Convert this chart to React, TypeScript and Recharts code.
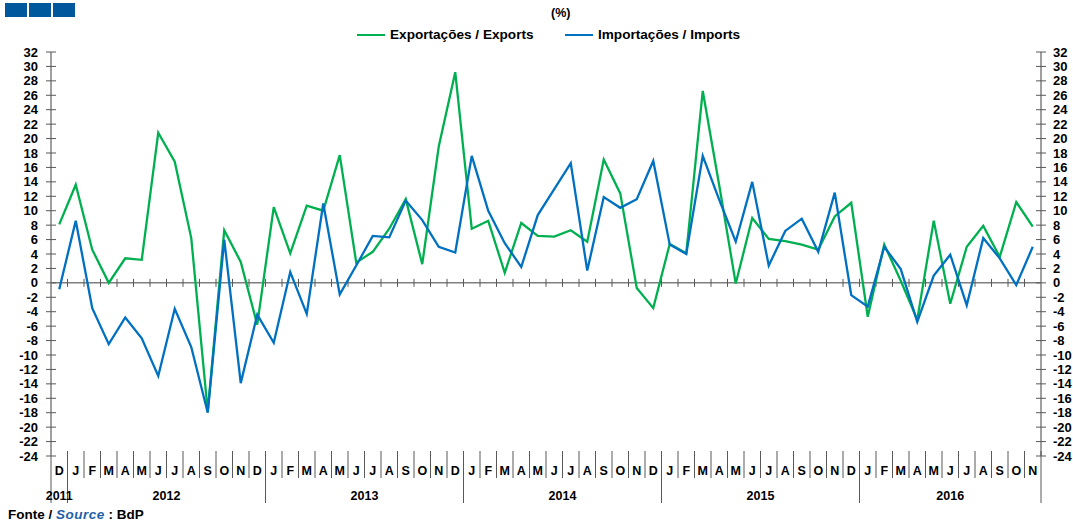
import React from "react";
import { LineChart, Line, XAxis, YAxis, ReferenceLine } from "recharts";

// month letters per year (Dec 2011 .. Nov 2016)
const years = ["2011", "2012", "2013", "2014", "2015", "2016"];
const fullYear = ["J", "F", "M", "A", "M", "J", "J", "A", "S", "O", "N", "D"];
const yearMonths = [
  ["D"],
  fullYear,
  fullYear,
  fullYear,
  fullYear,
  ["J", "F", "M", "A", "M", "J", "J", "A", "S", "O", "N"],
];

// year-on-year change, %
const exportsPct = [
  8.1,
  13.6, 4.6, 0.0, 3.4, 3.2, 20.8, 16.8, 6.2, -17.8, 7.3, 2.9, -5.8,
  10.5, 4.1, 10.7, 10.0, 17.7, 2.8, 4.3, 7.5, 11.6, 2.6, 18.9, 29.2,
  7.5, 8.6, 1.4, 8.3, 6.5, 6.4, 7.3, 5.7, 17.1, 12.4, -0.7, -3.5,
  5.4, 4.1, 26.6, 13.5, -0.1, 9.0, 6.1, 5.8, 5.3, 4.6, 9.2, 11.1,
  -4.7, 5.3, 0.3, -5.1, 8.6, -2.9, 5.0, 7.9, 3.6, 11.2, 7.8,
];
const importsPct = [
  -0.9,
  8.6, -3.5, -8.5, -4.8, -7.7, -12.9, -3.6, -8.9, -18.0, 6.0, -13.9, -4.4,
  -8.3, 1.5, -4.3, 11.0, -1.6, 2.4, 6.5, 6.3, 11.4, 8.7, 5.0, 4.2,
  17.6, 10.0, 5.5, 2.2, 9.4, 13.0, 16.6, 1.7, 11.9, 10.4, 11.6, 16.9,
  5.3, 4.0, 17.6, 11.5, 5.7, 14.0, 2.4, 7.2, 8.9, 4.3, 12.5, -1.7,
  -3.3, 5.0, 1.9, -5.4, 1.0, 3.9, -3.1, 6.2, 3.4, -0.3, 5.0,
];

const yTicks = [
  -24, -22, -20, -18, -16, -14, -12, -10, -8, -6, -4, -2, 0, 2, 4, 6, 8, 10,
  12, 14, 16, 18, 20, 22, 24, 26, 28, 30, 32,
];

const rows: any[] = [];
const groupInfo: Record<number, { year: string; count: number }> = {};
yearMonths.forEach((ms, yi) => {
  groupInfo[rows.length] = { year: years[yi], count: ms.length };
  ms.forEach((m, mi) => {
    rows.push({ key: `${years[yi]}-${mi}`, month: m });
  });
});
rows.forEach((r, i) => {
  r.exports = exportsPct[i];
  r.imports = importsPct[i];
});

const W = 1073;
const H = 524;
const LEFT_W = 51;
const RIGHT_W = 32;
const TOP = 52;
const X_H = 68;
const STEP = (W - LEFT_W - RIGHT_W) / rows.length;

const FONT = '"Liberation Sans", Arial, Helvetica, sans-serif';
const GREEN = "#00B050";
const BLUE = "#0070C0";
const AXIS = "#7f7f7f";
const TICK = "#595959";

const LeftTick = (props: any) => {
  const { x, y, payload } = props;
  return (
    <g>
      <line x1={x - 5} x2={x + 5} y1={y} y2={y} stroke={TICK} strokeWidth={1} />
      <text x={x - 13} y={y} dy={4.5} textAnchor="end" fontSize={13} fontWeight="bold" fontFamily={FONT} fill="#000">
        {payload.value}
      </text>
    </g>
  );
};

const RightTick = (props: any) => {
  const { x, y, payload } = props;
  return (
    <g>
      <line x1={x - 5} x2={x + 5} y1={y} y2={y} stroke={TICK} strokeWidth={1} />
      <text x={x + 12} y={y} dy={4.5} textAnchor="start" fontSize={13} fontWeight="bold" fontFamily={FONT} fill="#000">
        {payload.value}
      </text>
    </g>
  );
};

const MonthTick = (props: any) => {
  const { x, y, payload } = props;
  const i = rows.findIndex((r) => r.key === payload.value);
  if (i < 0) return null;
  const half = STEP / 2;
  const tall = rows[i].month === "D" || i === rows.length - 1;
  const g = groupInfo[i];
  return (
    <g>
      {i === 0 && <line x1={x - half} x2={x - half} y1={y} y2={y + 47} stroke={TICK} strokeWidth={1} />}
      <line x1={x + half} x2={x + half} y1={y - 5} y2={y + (tall ? 47 : 22)} stroke={TICK} strokeWidth={1} />
      <text x={x} y={y + 19} textAnchor="middle" fontSize={12.5} fontWeight="bold" fontFamily={FONT} fill="#000">
        {rows[i].month}
      </text>
      {g && (
        <text x={x + ((g.count - 1) / 2) * STEP} y={y + 44} textAnchor="middle" fontSize={12.5} fontWeight="bold" fontFamily={FONT} fill="#000">
          {g.year}
        </text>
      )}
    </g>
  );
};

const ZeroAxis = (props: any) => {
  const { x1, x2, y1 } = props;
  const a = Math.min(x1, x2);
  const b = Math.max(x1, x2);
  const step = (b - a) / rows.length;
  return (
    <g>
      <line x1={a} x2={b} y1={y1} y2={y1} stroke={AXIS} strokeWidth={1.5} />
      {rows.slice(1).map((r, k) => (
        <line key={r.key} x1={a + (k + 1) * step} x2={a + (k + 1) * step} y1={y1 - 4} y2={y1 + 4} stroke={TICK} strokeWidth={1} />
      ))}
    </g>
  );
};

const legendItems = [
  { label: "Exportações / Exports", color: GREEN, left: 357 },
  { label: "Importações / Imports", color: BLUE, left: 565 },
];

export default function App() {
  return (
    <div
      style={{
        position: "absolute",
        left: 0,
        top: 0,
        width: W,
        height: H,
        background: "#fff",
        fontFamily: FONT,
        overflow: "hidden",
      }}
    >
      {[5, 29, 53].map((l) => (
        <div key={l} style={{ position: "absolute", left: l, top: 3, width: 22, height: 14, background: "#00589C" }} />
      ))}
      <div style={{ position: "absolute", left: 551, top: 6, fontSize: 12.5, fontWeight: "bold" }}>(%)</div>
      {legendItems.map((it) => (
        <div key={it.label} style={{ position: "absolute", left: it.left, top: 27, display: "flex", alignItems: "center" }}>
          <div style={{ width: 28, height: 2, background: it.color, marginRight: 5 }} />
          <span style={{ fontSize: 13.6, fontWeight: "bold", lineHeight: "16px" }}>{it.label}</span>
        </div>
      ))}

      <LineChart width={W} height={H} data={rows} margin={{ top: TOP, right: 0, bottom: 0, left: 0 }}>
        <XAxis
          dataKey="key"
          height={X_H}
          interval={0}
          padding={{ left: STEP / 2, right: STEP / 2 }}
          axisLine={false}
          tickLine={false}
          tickSize={0}
          tickMargin={0}
          tick={(p: any) => <MonthTick {...p} />}
        />
        <YAxis
          yAxisId="l"
          orientation="left"
          width={LEFT_W}
          type="number"
          domain={[-24, 32]}
          ticks={yTicks}
          interval={0}
          allowDataOverflow
          axisLine={{ stroke: AXIS, strokeWidth: 1.5 }}
          tickLine={false}
          tickSize={0}
          tickMargin={0}
          tick={(p: any) => <LeftTick {...p} />}
        />
        <YAxis
          yAxisId="r"
          orientation="right"
          width={RIGHT_W}
          type="number"
          domain={[-24, 32]}
          ticks={yTicks}
          interval={0}
          allowDataOverflow
          axisLine={{ stroke: AXIS, strokeWidth: 1.5 }}
          tickLine={false}
          tickSize={0}
          tickMargin={0}
          tick={(p: any) => <RightTick {...p} />}
        />
        <ReferenceLine yAxisId="l" y={0} shape={(p: any) => <ZeroAxis {...p} />} />
        <Line yAxisId="l" type="linear" dataKey="exports" stroke={GREEN} strokeWidth={2.3} dot={false} isAnimationActive={false} />
        <Line yAxisId="l" type="linear" dataKey="imports" stroke={BLUE} strokeWidth={2.3} dot={false} isAnimationActive={false} />
      </LineChart>

      <div style={{ position: "absolute", left: 8, top: 507, fontSize: 13.5, fontWeight: "bold" }}>
        Fonte / <span style={{ color: "#1F5FA8", fontStyle: "italic", letterSpacing: 0.5 }}>Source</span> : BdP
      </div>
    </div>
  );
}
